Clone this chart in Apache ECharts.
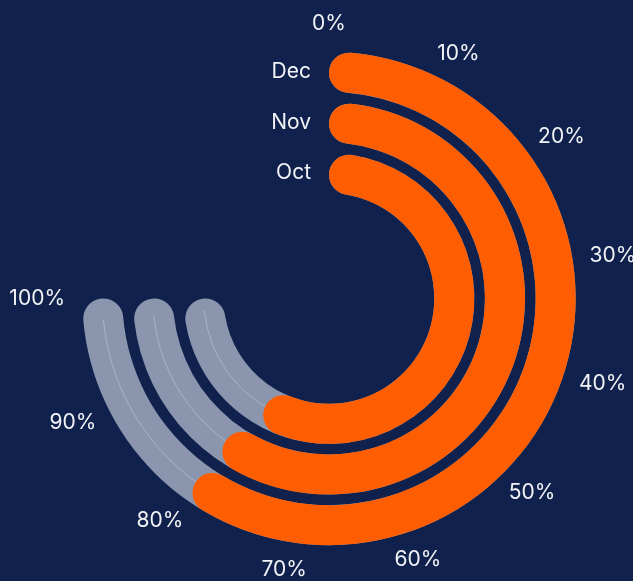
<!DOCTYPE html>
<html>
<head>
<meta charset="utf-8">
<title>Monthly completion</title>
<script src="https://cdn.jsdelivr.net/npm/echarts@6/dist/echarts.min.js"></script>
<style>
  html, body { margin: 0; padding: 0; background: #0f214c; }
  #chart { width: 633px; height: 581px; }
</style>
</head>
<body>
<div id="chart"></div>
<script>
// Months on the radius axis, innermost first
const months = ['Oct', 'Nov', 'Dec'];
// Completion per month, in percent
const completion = [78, 80, 80];
// Full-length track behind each bar
const trackValues = [100, 100, 100];
// Tick values of the angle axis (percent)
const angleTicks = [0, 10, 20, 30, 40, 50, 60, 70, 80, 90, 100];

const BG = '#0f214c';
const TEXT = '#f2f3f6';
const FONT = 'Inter, "Noto Sans", sans-serif';
const FONT_SIZE = 21;

const CENTER = [329, 298.5];
const R_INNER = 100;
const R_OUTER = 252;
const SWEEP = 270;          // degrees covered by the angle axis
const LABEL_MARGIN = -30;   // anchor radius used by the axis itself
const LABEL_GAP = 264;      // radius where the label box begins

const angleMin = angleTicks[0];
const angleMax = angleTicks[angleTicks.length - 1];
const angleStep = angleTicks[1] - angleTicks[0];

// Measure tick label widths so every label sits just outside the ring,
// offset along its own direction.
const measureCtx = document.createElement('canvas').getContext('2d');
measureCtx.font = FONT_SIZE + 'px ' + FONT;

function fmt(v) { return v + '%'; }

const angleRich = {};
angleTicks.forEach(function (v) {
  const phi = (v - angleMin) / (angleMax - angleMin) * SWEEP * Math.PI / 180;
  const s = Math.sin(phi);
  const c = Math.cos(phi);
  const w = measureCtx.measureText(fmt(v)).width;
  const h = FONT_SIZE;
  const ra = R_OUTER + LABEL_MARGIN;
  const d = LABEL_GAP - ra;
  const sx = s * (d + w / 2);
  const sy = -c * (d + h / 2);
  // alignment the angle axis picks for this anchor
  const px = ra * s, py = -ra * c;
  const alignX = Math.abs(px) / R_OUTER < 0.3 ? 'center' : (px > 0 ? 'left' : 'right');
  const alignY = Math.abs(py) / R_OUTER < 0.3 ? 'middle' : (py > 0 ? 'top' : 'bottom');
  let pl = 0, pr = 0, pt = 0, pb = 0;
  if (alignX === 'left') pl = sx - 1;
  else if (alignX === 'right') pr = -sx - 1;
  else if (sx >= 0) pl = 2 * sx; else pr = -2 * sx;
  if (alignY === 'top') pt = sy - 1;
  else if (alignY === 'bottom') pb = -sy - 1;
  else if (sy >= 0) pt = 2 * sy; else pb = -2 * sy;
  pl = Math.max(pl, 0); pr = Math.max(pr, 0);
  pt = Math.max(pt, 0); pb = Math.max(pb, 0);
  angleRich['t' + v] = {
    width: 2,
    height: 2,
    lineHeight: 2 + pt + pb,
    align: 'center',
    verticalAlign: 'middle',
    color: TEXT,
    fontSize: FONT_SIZE,
    fontFamily: FONT,
    padding: [pt, pr, pb, pl]
  };
});

const chart = echarts.init(document.getElementById('chart'), null, { renderer: 'canvas' });

function polarAxes(showLabels) {
  return {
    angle: {
      type: 'value',
      polarIndex: showLabels ? 0 : 1,
      min: angleMin,
      max: angleMax,
      interval: angleStep,
      startAngle: 90,
      endAngle: 90 - SWEEP,
      clockwise: true,
      axisLine: { show: false },
      axisTick: { show: false },
      splitLine: { show: false },
      axisLabel: showLabels ? {
        show: true,
        margin: LABEL_MARGIN,
        color: TEXT,
        fontSize: FONT_SIZE,
        fontFamily: FONT,
        formatter: function (v) { return '{t' + v + '|' + fmt(v) + '}'; },
        rich: angleRich
      } : { show: false }
    },
    radius: {
      type: 'category',
      polarIndex: showLabels ? 0 : 1,
      data: months,
      axisLine: { show: false },
      axisTick: { show: false },
      splitLine: { show: false },
      axisLabel: showLabels ? {
        interval: 0,
        color: TEXT,
        fontSize: FONT_SIZE,
        fontFamily: FONT,
        margin: 18
      } : { show: false }
    }
  };
}

const axesMain = polarAxes(true);
const axesTop = polarAxes(false);

// Thin centre line running along each grey track, past the end of the bar
function renderTrackLine(params, api) {
  const idx = api.value(0);
  const from = api.coord([idx, api.value(1)]);
  const to = api.coord([idx, api.value(2)]);
  const cx = params.coordSys.cx, cy = params.coordSys.cy;
  const r = Math.hypot(from[0] - cx, from[1] - cy);
  let a0 = Math.atan2(from[1] - cy, from[0] - cx);
  let a1 = Math.atan2(to[1] - cy, to[0] - cx);
  if (a1 < a0) a1 += Math.PI * 2;
  return {
    type: 'arc',
    shape: { cx: cx, cy: cy, r: r, startAngle: a0, endAngle: a1, clockwise: true },
    style: { stroke: 'rgba(225, 230, 240, 0.35)', lineWidth: 1, fill: null },
    silent: true
  };
}

const option = {
  backgroundColor: BG,
  animation: false,
  polar: [
    { center: CENTER, radius: [R_INNER, R_OUTER] },
    { center: CENTER, radius: [R_INNER, R_OUTER] }
  ],
  angleAxis: [axesMain.angle, axesTop.angle],
  radiusAxis: [axesMain.radius, axesTop.radius],
  series: [
    {
      name: 'Track',
      type: 'bar',
      coordinateSystem: 'polar',
      polarIndex: 0,
      data: trackValues,
      barWidth: 40,
      z: 1,
      silent: true,
      itemStyle: { color: '#8b96ae', borderRadius: 20 }
    },
    {
      name: 'Track line',
      type: 'custom',
      coordinateSystem: 'polar',
      polarIndex: 0,
      z: 2,
      silent: true,
      data: months.map(function (m, i) { return [i, completion[i] - 5, trackValues[i] - 2]; }),
      renderItem: renderTrackLine
    },
    {
      name: 'Completion',
      type: 'bar',
      coordinateSystem: 'polar',
      polarIndex: 1,
      data: completion,
      barWidth: 40,
      z: 3,
      itemStyle: { color: '#ff5e00', borderRadius: 20 }
    }
  ]
};

chart.setOption(option);
</script>
</body>
</html>
